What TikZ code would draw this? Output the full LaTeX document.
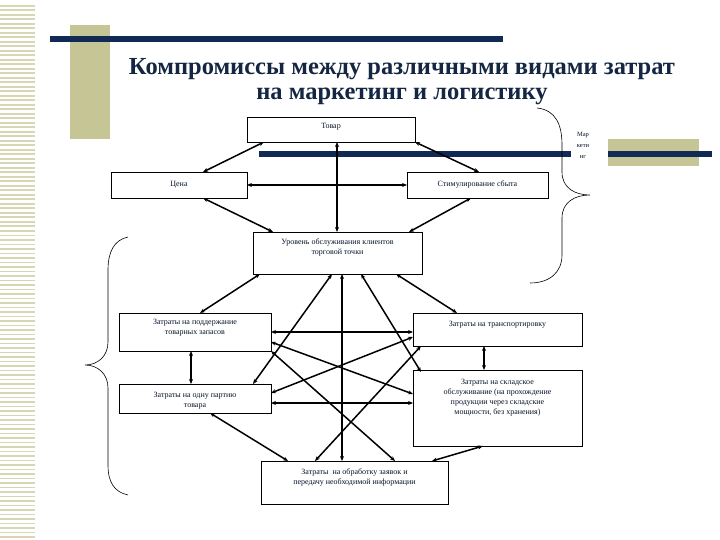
\documentclass[tikz,border=0pt]{standalone}
\usepackage{fontspec}
\setmainfont{Liberation Serif}
\usetikzlibrary{arrows.meta}
\definecolor{olv}{RGB}{197,197,150}
\definecolor{stp}{RGB}{215,215,180}
\definecolor{nav}{RGB}{16,42,84}
\definecolor{ttl}{RGB}{20,38,66}
\begin{document}
\begin{tikzpicture}[x=1pt,y=-1pt,
  box/.style={draw,line width=0.8pt,minimum width=#1,inner sep=0pt,outer sep=0pt},
  box/.default=100pt,
  bt/.style={font=\fontsize{8}{10}\selectfont,align=center,text=nav!50!black},
  con/.style={line width=1.5pt,{Stealth[length=5pt,width=4pt]}-{Stealth[length=5pt,width=4pt]}},
  brace/.style={line width=0.6pt}]
\useasboundingbox (0,0) rectangle (720,540);
\fill[white] (0,0) rectangle (720,540);
% left stripes
\foreach \i in {0,...,118}{\fill[stp] (0,{5+4.5*\i}) rectangle (35,{6.8+4.5*\i});}
% decorations
\fill[olv] (70,25) rectangle (110,139);
\fill[nav] (50,36) rectangle (503,42);
\fill[olv] (608,139) rectangle (699,166);
\fill[nav] (259,151) rectangle (571,157);
\fill[nav] (608,151) rectangle (712,157);
% title
\node[font=\fontsize{24.5}{25}\selectfont\bfseries,text=ttl,align=center] (title) at (402,82)
  {Компромиссы между различными видами затрат\\на маркетинг и логистику};
% boxes
\node[box=168pt,minimum height=25pt,label={[bt,anchor=north,yshift=-3pt]north:Товар}] (T) at (331,129.5) {};
\node[box=136pt,minimum height=26pt,bt] (C) at (179,185) {Цена};
\node[box=141pt,minimum height=26pt,bt] (S) at (477.5,185) {Стимулирование сбыта};
\node[box=169pt,minimum height=42pt,label={[bt,anchor=north,yshift=-3pt]north:Уровень обслуживания клиентов\\торговой точки}] (U) at (337.5,253) {};
\node[box=152pt,minimum height=38pt,label={[bt,anchor=north,yshift=-3pt]north:Затраты на поддержание\\товарных запасов}] (P) at (195,332) {};
\node[box=169pt,minimum height=33pt,label={[bt,anchor=north,yshift=-5pt]north:Затраты на транспортировку}] (Tr) at (497.5,329.5) {};
\node[box=152pt,minimum height=29pt,label={[bt,anchor=north,yshift=-5pt]north:Затраты на одну партию\\товара}] (O) at (195,398.5) {};
\node[box=169pt,minimum height=76pt,label={[bt,anchor=north,yshift=-6pt]north:Затраты на складское\\обслуживание (на прохождение\\продукции через складские\\мощности, без хранения)}] (Sk) at (497.5,408) {};
\node[box=187pt,minimum height=43pt,label={[bt,anchor=north,yshift=-4pt]north:Затраты \ на обработку заявок и\\передачу необходимой информации}] (Ob) at (354.5,482.5) {};
\node[bt,font=\fontsize{6.5}{11}\selectfont,align=center] (M) at (583,145) {Мар\\кети\\нг};
% connectors
\draw[con] ([xshift=17pt]T.south west) -- ([xshift=92pt]C.north west);
\draw[con] ([xshift=90pt]T.south west) -- ([xshift=84pt]U.north west);
\draw[con] (T.south east) -- ([xshift=72pt]S.north west);
\draw[con] (C.east) -- (S.west);
\draw[con] ([xshift=92pt]C.south west) -- ([xshift=20pt]U.north west);
\draw[con] ([xshift=64pt]S.south west) -- ([xshift=156pt]U.north west);
\draw[con] ([xshift=7pt]U.south west) -- ([xshift=81pt]P.north west);
\draw[con] ([xshift=143pt]U.south west) -- ([xshift=44pt]Tr.north west);
\draw[con] ([xshift=79pt]U.south west) -- ([xshift=134pt]O.north west);
\draw[con] ([xshift=89pt]U.south west) -- ([xshift=81pt]Ob.north west);
\draw[con] ([xshift=108pt]U.south west) -- ([xshift=8pt,yshift=-2pt]Sk.north west);
\draw[con] ([yshift=-19pt]P.north east) -- ([yshift=-19pt]Tr.north west);
\draw[con] ([yshift=-29pt]P.north east) -- ([yshift=-24pt]Sk.north west);
\draw[con] (P.south east) -- ([xshift=134pt]Ob.north west);
\draw[con] ([xshift=72pt]P.south west) -- ([xshift=72pt]O.north west);
\draw[con] ([yshift=-9pt]O.north east) -- ([yshift=-24pt]Tr.north west);
\draw[con] ([yshift=-19pt]O.north east) -- ([yshift=-33pt]Sk.north west);
\draw[con] ([xshift=91pt]O.south west) -- ([xshift=27pt]Ob.north west);
\draw[con] ([xshift=71pt]Tr.south west) -- ([xshift=71pt]Sk.north west);
\draw[con] ([xshift=70pt]Sk.south west) -- ([xshift=171pt]Ob.north west);
\draw[con] ([xshift=54pt]Ob.north west) -- ([xshift=8pt]Tr.south west);
% braces
\draw[brace] (537,108) .. controls (556,110) and (562,125) .. (562,145) -- (562,172)
  .. controls (562,188) and (575,195) .. (590,195)
  .. controls (575,195) and (562,202) .. (562,218) -- (562,255)
  .. controls (562,272) and (550,283) .. (530,283);
\draw[brace] (128,237) .. controls (114,240) and (108,252) .. (108,270) -- (108,342)
  .. controls (108,356) and (98,365) .. (85,365)
  .. controls (98,365) and (108,374) .. (108,388) -- (108,465)
  .. controls (108,482) and (114,492) .. (128,495);
\end{tikzpicture}
\end{document}
